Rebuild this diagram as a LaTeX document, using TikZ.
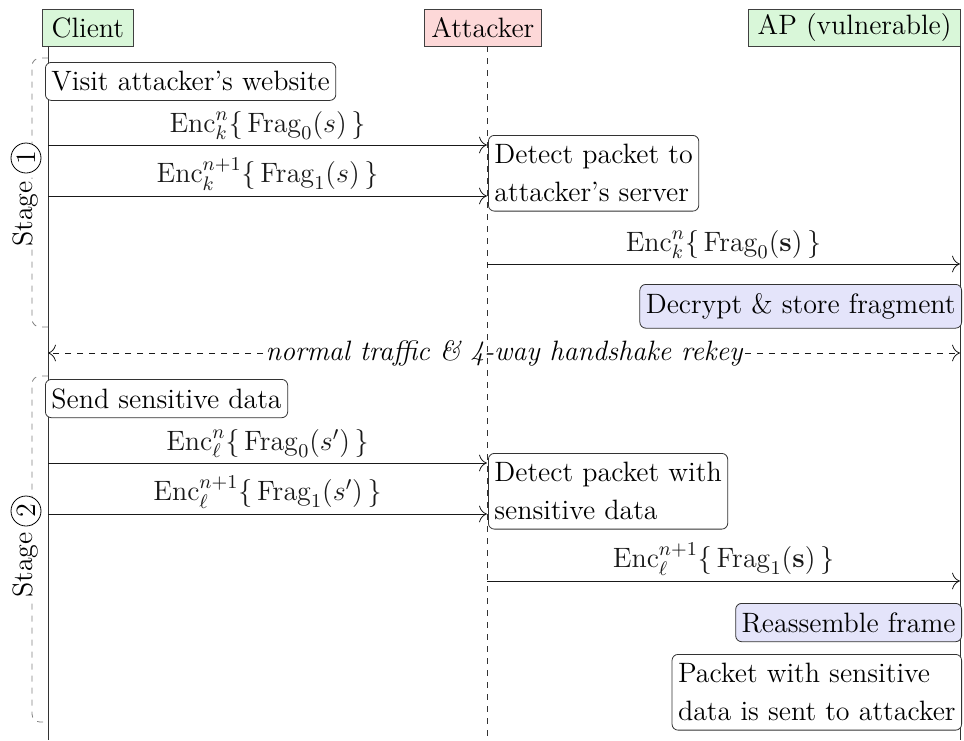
\RequirePackage{fix-cm}
\documentclass[tikz,border=0pt]{standalone}
\usepackage{amsmath}
\usetikzlibrary{arrows.meta}
\definecolor{hdrgreen}{HTML}{D9F7D9}
\definecolor{hdrred}{HTML}{FDD8D8}
\definecolor{lav}{HTML}{E4E4FA}
\newcommand\fsz{\fontsize{14}{19}\selectfont}
\newcommand\Fr{\mathrm{Frag}}
\newcommand\En{\mathrm{Enc}}
\tikzset{
  hdr/.style={draw=black!75, inner xsep=3pt, inner ysep=0pt, minimum height=18.5pt, font=\fsz},
  actbox/.style={draw=black!80, rounded corners=3pt, fill=white, inner xsep=3pt, inner ysep=4.5pt, align=left, font=\fsz},
  procbox/.style={actbox, fill=lav},
  msg/.style={-{To[scale=1.6]}, black!90},
  msglbl/.style={above=0.5pt, inner sep=2pt, font=\fsz},
  life/.style={black!80},
  stagebr/.style={gray, dashed, rounded corners=4pt},
  stagelbl/.style={rotate=90, fill=white, inner sep=1pt, font=\fsz},
  stagenum/.style={circle, draw=black, rotate=90, fill=white, minimum size=15pt, inner sep=0pt, font=\fsz},
}
\begin{document}
\begin{tikzpicture}[x=0.5pt, y=-0.5pt]
\useasboundingbox (0,0) rectangle (964,740);
% headers
\node[hdr, fill=hdrgreen, anchor=north west, minimum width=45.5pt] (client) at (42,9) {Client};
\node[hdr, fill=hdrred, anchor=north west, minimum width=58.5pt] (attacker) at (424,9) {Attacker};
\node[hdr, fill=hdrgreen, anchor=north east, minimum width=106pt] (ap) at (961,9) {AP (vulnerable)};
% lifelines
\coordinate (clT) at (48,46); \coordinate (clB) at (48,740);
\coordinate (atT) at (487,46); \coordinate (atB) at (487,740);
\coordinate (apT) at (960,46); \coordinate (apB) at (960,740);
\draw[life] (clT) -- (clB);
\draw[life, dashed] (atT) -- (atB);
\draw[life] (apT) -- (apB);
% stage brackets
\coordinate (s1a) at (48,58); \coordinate (s1b) at (48,327);
\draw[stagebr] (s1a) -- (32,58) -- (32,327) -- (s1b);
\node[stagelbl] (st1) at (26,214) {Stage};
\node[stagenum] (n1) at (26,158) {1};
\coordinate (s2a) at (48,376); \coordinate (s2b) at (48,722);
\draw[stagebr] (s2a) -- (32,376) -- (32,722) -- (s2b);
\node[stagelbl] (st2) at (26,565) {Stage};
\node[stagenum] (n2) at (26,511) {2};
% stage 1
\node[actbox, anchor=north west] (visit) at (45,62) {Visit attacker's website};
\coordinate (c1) at (48,145); \coordinate (a1) at (487,145);
\draw[msg] (c1) -- node[msglbl] (l1) {$\En_k^n\{\,\Fr_0(s)\,\}$} (a1);
\coordinate (c2) at (48,196); \coordinate (a2) at (487,196);
\draw[msg] (c2) -- node[msglbl] (l2) {$\En_k^{n+1}\{\,\Fr_1(s)\,\}$} (a2);
\node[actbox, anchor=north west] (detect1) at (488,135) {Detect packet to\\attacker's server};
\coordinate (a3) at (487,264); \coordinate (p3) at (960,264);
\draw[msg] (a3) -- node[msglbl] (l3) {$\En_k^n\{\,\Fr_0(\mathbf{s})\,\}$} (p3);
\node[procbox, anchor=north east] (decrypt) at (962,284) {Decrypt \& store fragment};
% rekey
\node[font=\fsz\itshape, inner sep=1pt] (rekey) at (504,353) {normal traffic \& 4-way handshake rekey};
\coordinate (cR) at (48,353); \coordinate (pR) at (960,353);
\draw[msg, dashed] (rekey.west) -- (cR);
\draw[msg, dashed] (rekey.east) -- (pR);
% stage 2
\node[actbox, anchor=north west] (send) at (45,379) {Send sensitive data};
\coordinate (c4) at (48,463); \coordinate (a4) at (487,463);
\draw[msg] (c4) -- node[msglbl] (l4) {$\En_\ell^n\{\,\Fr_0(s')\,\}$} (a4);
\coordinate (c5) at (48,514); \coordinate (a5) at (487,514);
\draw[msg] (c5) -- node[msglbl] (l5) {$\En_\ell^{n+1}\{\,\Fr_1(s')\,\}$} (a5);
\node[actbox, anchor=north west] (detect2) at (488,453) {Detect packet with\\sensitive data};
\coordinate (a6) at (487,581); \coordinate (p6) at (960,581);
\draw[msg] (a6) -- node[msglbl] (l6) {$\En_\ell^{n+1}\{\,\Fr_1(\mathbf{s})\,\}$} (p6);
\node[procbox, anchor=north east] (reasm) at (962,603) {Reassemble frame};
\node[actbox, anchor=north east] (packet) at (962,654) {Packet with sensitive\\data is sent to attacker};
\end{tikzpicture}
\end{document}
